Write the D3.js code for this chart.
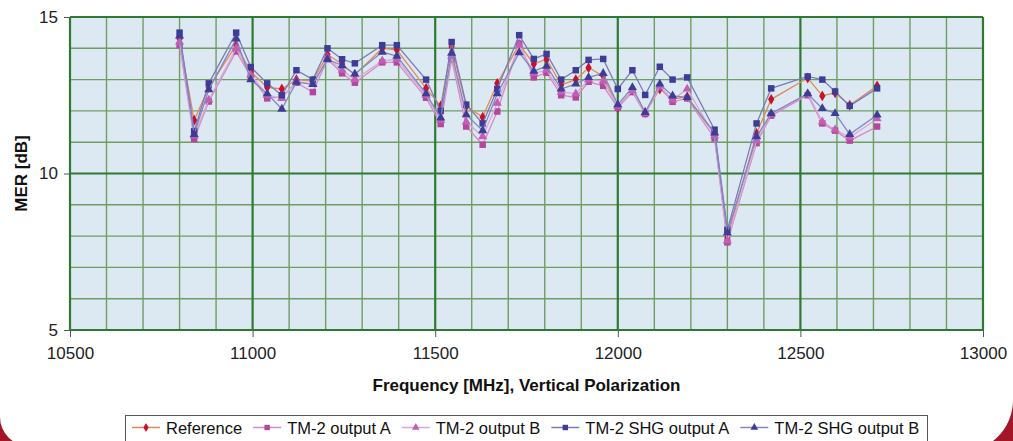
<!DOCTYPE html>
<html><head><meta charset="utf-8">
<script src="https://cdn.jsdelivr.net/npm/d3@7"></script>
<style>html,body{margin:0;padding:0;background:#fff;overflow:hidden}</style>
</head><body>
<svg id="c" width="1013" height="441"></svg>
<script>
const freqs = [10800,10840,10880,10955,10995,11040,11080,11120,11165,11205,11245,11280,11355,11395,11475,11515,11545,11585,11630,11670,11730,11770,11805,11845,11885,11920,11960,12000,12040,12075,12115,12150,12190,12265,12300,12380,12420,12520,12560,12595,12635,12710];
const refVals = [14.3,11.7,12.75,14.1,13.25,12.75,12.7,13.0,12.95,13.8,13.5,13.15,14.0,13.95,12.72,12.16,14.05,12.15,11.8,12.88,14.12,13.5,13.65,12.83,13.0,13.38,13.12,12.1,12.67,11.95,12.7,12.38,12.45,11.25,7.95,11.28,12.37,13.05,12.48,12.58,12.18,12.8];
const tm2A = [14.1,11.1,12.3,13.9,13.1,12.4,12.45,12.9,12.6,13.65,13.2,12.9,13.55,13.55,12.42,11.58,13.65,11.5,10.92,11.98,14.15,13.07,13.22,12.5,12.43,12.93,12.8,12.1,12.6,11.9,12.75,12.29,12.4,11.12,7.8,10.97,11.85,12.5,11.6,11.37,11.05,11.5];
const tm2B = [14.2,11.2,12.35,14.0,13.15,12.5,12.4,12.95,12.85,13.7,13.3,13.0,13.6,13.65,12.5,11.7,13.75,11.65,11.18,12.25,14.1,13.2,13.3,12.6,12.55,13.0,12.95,12.15,12.65,11.92,12.8,12.35,12.7,11.2,7.85,11.05,11.9,12.55,11.65,11.4,11.15,11.75];
const shgA = [14.5,11.35,12.88,14.5,13.4,12.88,12.5,13.3,13.0,14.0,13.65,13.52,14.1,14.1,13.0,12.0,14.2,12.2,11.6,12.7,14.42,13.66,13.82,13.0,13.3,13.63,13.66,12.7,13.3,12.51,13.41,13.0,13.07,11.4,8.2,11.6,12.72,13.1,13.0,12.62,12.16,12.72];
const shgB = [14.4,11.25,12.68,14.3,13.0,12.55,12.06,12.92,12.85,13.65,13.45,13.18,13.88,13.75,12.55,11.78,13.85,11.88,11.37,12.55,13.86,13.27,13.43,12.7,12.86,13.07,13.2,12.2,12.75,11.95,12.86,12.48,12.43,11.3,8.1,11.18,11.92,12.55,12.08,11.92,11.25,11.87];
const seriesNames = ["Reference","TM-2 output A","TM-2 output B","TM-2 SHG output A","TM-2 SHG output B"];
const xTicks = [10500,11000,11500,12000,12500,13000];
const yTicks = [5,10,15];
const xMinor = d3.range(10500,13001,100);
const yMinor = d3.range(5,15.01,1);

const seriesValues = [refVals, tm2A, tm2B, shgA, shgB];
const styles = [
  {line:"#e08a5a", fill:"#c8102e", sym:d3.symbolDiamond, size:34},
  {line:"#d489c8", fill:"#b3479e", sym:d3.symbolSquare, size:42},
  {line:"#d8a6d8", fill:"#c25fb5", sym:d3.symbolTriangle, size:36},
  {line:"#7b7bb8", fill:"#3d3d98", sym:d3.symbolSquare, size:42},
  {line:"#8585c2", fill:"#3d3d98", sym:d3.symbolTriangle, size:36}
];

const svg = d3.select("#c");
const font = "'Liberation Sans', Arial, sans-serif";
const L=70, R=983, T=17, B=330;
const x = d3.scaleLinear().domain([10500,13000]).range([L,R]);
const y = d3.scaleLinear().domain([5,15]).range([B,T]);

// red frame visible at the bottom corners
svg.append("rect").attr("x",0).attr("y",0).attr("width",1013).attr("height",441).attr("fill","#a3162a");
const rl = 29, rr = 52;
svg.append("path").attr("fill","#fff").attr("d",
  `M0,-10 L1013,-10 L1013,400 A${rr},${rr} 0 0 1 ${1013-rr},${400+rr} L${rl},${417+rl} A${rl},${rl} 0 0 1 0,417 Z`);

// plot background
svg.append("rect").attr("x",L).attr("y",T).attr("width",R-L).attr("height",B-T).attr("fill","#dde9f2");

const grid = svg.append("g");
xMinor.filter(v=>v%500!==0).forEach(v=>{
  grid.append("line").attr("x1",x(v)).attr("x2",x(v)).attr("y1",T).attr("y2",B).attr("stroke","#6f9e62").attr("stroke-width",1.4);
});
yMinor.filter(v=>v%5!==0).forEach(v=>{
  grid.append("line").attr("x1",L).attr("x2",R).attr("y1",y(v)).attr("y2",y(v)).attr("stroke","#6f9e62").attr("stroke-width",1.4);
});
xTicks.forEach(v=>{
  grid.append("line").attr("x1",x(v)).attr("x2",x(v)).attr("y1",T).attr("y2",B).attr("stroke","#2f7a32").attr("stroke-width",2.2);
});
yTicks.forEach(v=>{
  grid.append("line").attr("x1",L).attr("x2",R).attr("y1",y(v)).attr("y2",y(v)).attr("stroke","#2f7a32").attr("stroke-width",2.2);
});

// axes
const xAxis = svg.append("g").attr("transform",`translate(0,${B})`)
  .call(d3.axisBottom(x).tickValues(xTicks).tickSize(7).tickPadding(10).tickFormat(d3.format("d")));
xAxis.select(".domain").remove();
xAxis.selectAll("line").attr("stroke","#555");
xAxis.selectAll("text").attr("font-family",font).attr("font-size",17).attr("fill","#222");

const yAxis = svg.append("g").attr("transform",`translate(${L},0)`)
  .call(d3.axisLeft(y).tickValues(yTicks).tickSize(6).tickPadding(6));
yAxis.select(".domain").remove();
yAxis.selectAll("line").attr("stroke","#555");
yAxis.selectAll("text").attr("font-family",font).attr("font-size",17).attr("fill","#222");

// titles
svg.append("text").attr("x",(L+R)/2).attr("y",391).attr("text-anchor","middle")
  .attr("font-family",font).attr("font-size",17).attr("font-weight","bold").attr("fill","#111")
  .text("Frequency [MHz], Vertical Polarization");
svg.append("text").attr("transform",`translate(27,${(T+B)/2}) rotate(-90)`).attr("text-anchor","middle")
  .attr("font-family",font).attr("font-size",17).attr("font-weight","bold").attr("fill","#111")
  .text("MER [dB]");

// series
const line = d3.line().x((d,i)=>x(freqs[i])).y(d=>y(d));
seriesValues.forEach((vals,k)=>{
  const st = styles[k];
  const g = svg.append("g");
  g.append("path").datum(vals).attr("d",line).attr("fill","none").attr("stroke",st.line).attr("stroke-width",1.3);
  g.selectAll("path.m").data(vals).enter().append("path").attr("class","m")
    .attr("transform",(d,i)=>`translate(${x(freqs[i])},${y(d)})`)
    .attr("d",d3.symbol().type(st.sym).size(st.size)).attr("fill",st.fill);
});

// legend
const lg = svg.append("g");
lg.append("rect").attr("x",125.5).attr("y",415.5).attr("width",802).attr("height",40)
  .attr("fill","#fff").attr("stroke","#555").attr("stroke-width",1);
let cx = 132;
seriesNames.forEach((name,k)=>{
  const st = styles[k];
  lg.append("line").attr("x1",cx).attr("x2",cx+28).attr("y1",427.5).attr("y2",427.5).attr("stroke",st.line).attr("stroke-width",1.5);
  lg.append("path").attr("transform",`translate(${cx+14},427.5)`).attr("d",d3.symbol().type(st.sym).size(st.size*0.7)).attr("fill",st.fill);
  const t = lg.append("text").attr("x",cx+34).attr("y",433.5).attr("font-family",font).attr("font-size",16.5).attr("fill","#111").text(name);
  cx = cx + 34 + t.node().getComputedTextLength() + 11;
});
</script>
</body></html>
